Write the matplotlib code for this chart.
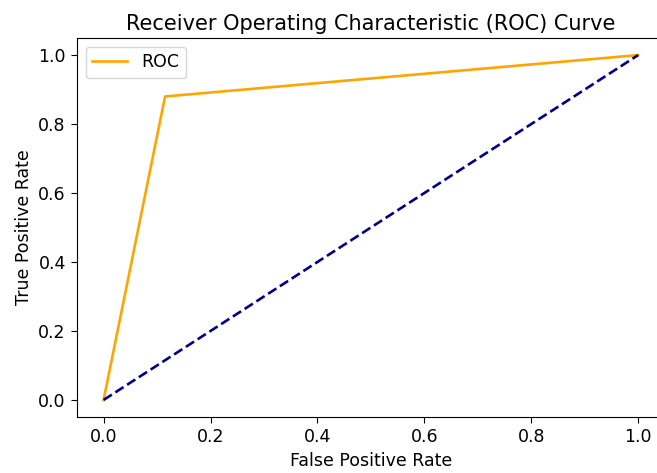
import matplotlib
matplotlib.use("Agg")
import matplotlib.pyplot as plt

# ROC curve points
fpr = [0.0, 0.115, 1.0]
tpr = [0.0, 0.88, 1.0]
diag_x = [0, 1]
diag_y = [0, 1]

fig = plt.figure(figsize=(6.57, 4.73), dpi=100)
ax = fig.add_axes([0.117, 0.118, 0.895, 0.802])

ax.plot(fpr, tpr, color='orange', label='ROC', linewidth=1.9)
ax.plot(diag_x, diag_y, color='darkblue', linestyle='--', linewidth=1.9)
ax.set_xlabel('False Positive Rate', fontsize=12.5)
ax.set_ylabel('True Positive Rate', fontsize=12.5)
ax.set_title('Receiver Operating Characteristic (ROC) Curve', fontsize=15)
ax.tick_params(labelsize=12.5, length=4.5)
ax.legend(fontsize=12.5, loc='upper left')

fig.savefig('out.png', dpi=100)
